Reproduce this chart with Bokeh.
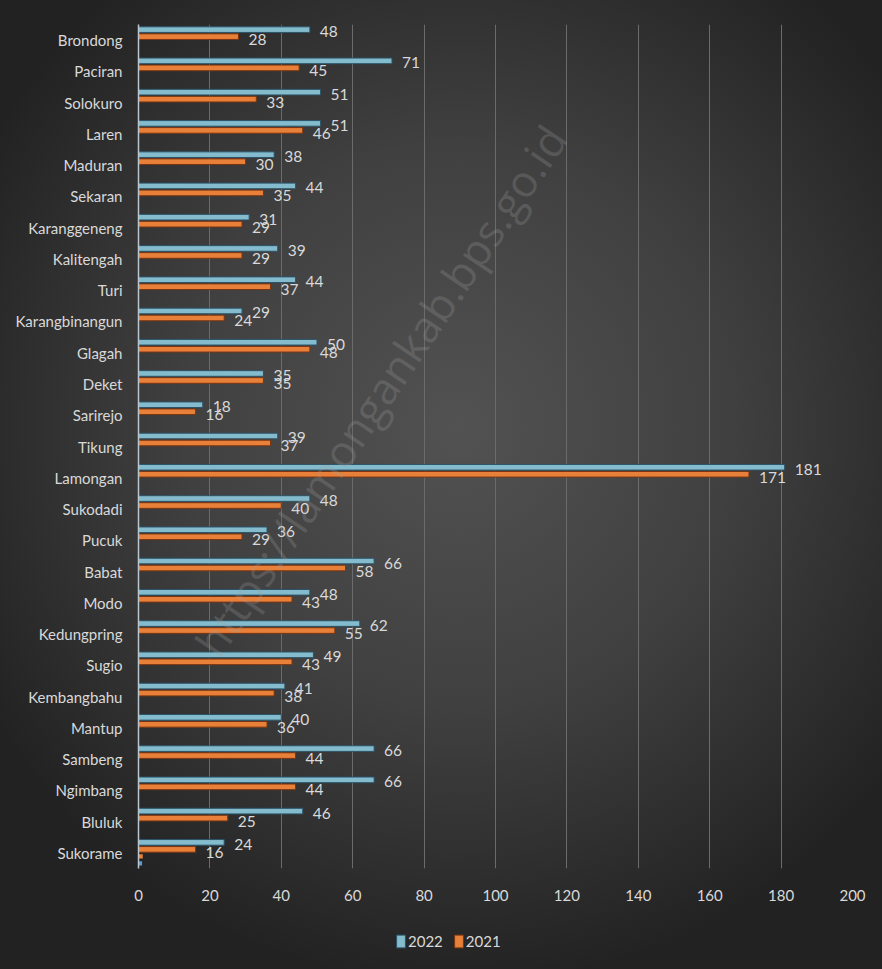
from bokeh.plotting import figure
from bokeh.layouts import column
from bokeh.models import (ColumnDataSource, FactorRange, Range1d, FixedTicker, Legend,
                          LegendItem, Label, InlineStyleSheet)
from bokeh.transform import dodge
from bokeh.core.properties import value
from bokeh.embed import file_html
from bokeh.resources import INLINE

categories = ["Brondong", "Paciran", "Solokuro", "Laren", "Maduran", "Sekaran", "Karanggeneng",
              "Kalitengah", "Turi", "Karangbinangun", "Glagah", "Deket", "Sarirejo", "Tikung",
              "Lamongan", "Sukodadi", "Pucuk", "Babat", "Modo", "Kedungpring", "Sugio",
              "Kembangbahu", "Mantup", "Sambeng", "Ngimbang", "Bluluk", "Sukorame"]
v2022 = [48, 71, 51, 51, 38, 44, 31, 39, 44, 29, 50, 35, 18, 39, 181, 48, 36, 66, 48, 62, 49,
         41, 40, 66, 66, 46, 24]
v2021 = [28, 45, 33, 46, 30, 35, 29, 29, 37, 24, 48, 35, 16, 37, 171, 40, 29, 58, 43, 55, 43,
         38, 36, 44, 44, 25, 16]
# two stray (nearly empty) series visible only under Sukorame
v_extra_a = [0] * 26 + [1.2]
v_extra_b = [0] * 26 + [1.0]
x_ticks = [0, 20, 40, 60, 80, 100, 120, 140, 160, 180, 200]
series_names = ["2022", "2021"]
watermark = "https://lamongankab.bps.go.id"

FONT = "Lato"
TXT = "#d9d9d9"
BLUE, BLUE_EDGE = "#84bccd", "#2c5368"
ORANGE, ORANGE_EDGE = "#e8803a", "#7a3510"

src = ColumnDataSource(dict(cat=categories, v22=v2022, v21=v2021,
                            l22=[str(v) for v in v2022], l21=[str(v) for v in v2021],
                            ea=v_extra_a, eb=v_extra_b))

p = figure(width=882, height=925, output_backend="svg", toolbar_location=None,
           y_range=FactorRange(factors=list(reversed(categories)), range_padding=0),
           x_range=Range1d(0, 200),
           min_border_left=138, min_border_right=30, min_border_top=24, min_border_bottom=57)
p.border_fill_color = None
p.background_fill_color = None
p.outline_line_color = None

p.hbar(y=dodge("cat", 0.336, range=p.y_range), left=0, right="v22", height=0.18,
       source=src, fill_color=BLUE, line_color=BLUE_EDGE, line_width=1)
p.hbar(y=dodge("cat", 0.112, range=p.y_range), left=0, right="v21", height=0.18,
       source=src, fill_color=ORANGE, line_color=ORANGE_EDGE, line_width=1)
p.hbar(y=dodge("cat", -0.112, range=p.y_range), left=0, right="ea", height=0.13,
       source=src, fill_color="#e8803a", line_color=None)
p.hbar(y=dodge("cat", -0.336, range=p.y_range), left=0, right="eb", height=0.13,
       source=src, fill_color="#5b9bd5", line_color=None)

p.text(x="v22", y=dodge("cat", 0.336, range=p.y_range), text="l22", source=src,
       x_offset=10, y_offset=2, text_align="left", text_baseline="middle",
       text_font=value(FONT), text_font_size="15.5px", text_color=TXT)
p.text(x="v21", y=dodge("cat", 0.112, range=p.y_range), text="l21", source=src,
       x_offset=10, y_offset=3, text_align="left", text_baseline="middle",
       text_font=value(FONT), text_font_size="15.5px", text_color=TXT)

p.xaxis.ticker = FixedTicker(ticks=x_ticks)
p.xaxis.axis_line_color = None
p.xaxis.major_tick_line_color = None
p.xaxis.minor_tick_line_color = None
p.xaxis.major_label_standoff = 15
p.xaxis.major_label_text_font = FONT
p.xaxis.major_label_text_font_size = "15px"
p.xaxis.major_label_text_color = TXT

p.yaxis.axis_line_color = "#b9c6ce"
p.yaxis.axis_line_width = 1.5
p.yaxis.major_tick_line_color = None
p.yaxis.minor_tick_line_color = None
p.yaxis.major_label_standoff = 10
p.yaxis.major_label_text_font = FONT
p.yaxis.major_label_text_font_size = "15px"
p.yaxis.major_label_text_color = TXT

p.xgrid.grid_line_color = "#6b6b6b"
p.xgrid.grid_line_width = 1
p.ygrid.grid_line_color = None

wm = Label(x=242, y=478, x_units="screen", y_units="screen", text=watermark,
           angle=0.98, text_align="center", text_baseline="middle",
           text_font="Open Sans", text_font_size="44px", text_color="#a0a0a0",
           text_alpha=0.25)
p.add_layout(wm)

# legend strip below the chart (its frame is aligned with the chart's frame by the column)
lf = figure(width=882, height=44, output_backend="svg", toolbar_location=None,
            x_range=Range1d(0, 1), y_range=Range1d(0, 1), x_axis_type=None, y_axis_type=None,
            min_border_left=138, min_border_right=30, min_border_top=0, min_border_bottom=0)
lf.border_fill_color = None
lf.background_fill_color = None
lf.outline_line_color = None
lf.grid.grid_line_color = None
# legend-key glyphs: kept outside the strip's visible range, only their swatches show
key_src = ColumnDataSource(dict(y=[-10], left=[0], right=[0]))
k22 = lf.hbar(y="y", left="left", right="right", height=0.1, source=key_src,
              fill_color=BLUE, line_color=BLUE_EDGE)
k21 = lf.hbar(y="y", left="left", right="right", height=0.1, source=key_src,
              fill_color=ORANGE, line_color=ORANGE_EDGE)
legend = Legend(items=[LegendItem(label=series_names[0], renderers=[k22]),
                       LegendItem(label=series_names[1], renderers=[k21])],
                location=(257, 19), orientation="horizontal",
                glyph_width=11, glyph_height=16, label_standoff=2, spacing=10,
                padding=0, margin=0, background_fill_alpha=0, border_line_alpha=0,
                label_text_font=FONT, label_text_font_size="15px", label_text_color=TXT)
lf.add_layout(legend, "center")

layout = column(p, lf, spacing=0,
                stylesheets=[InlineStyleSheet(css=":host { background: radial-gradient(ellipse 62% 58% at 52% 44%, #525252 0%, #404040 50%, #2b2b2b 85%, #222222 100%); }")])

open("out.html", "w").write(file_html(layout, INLINE))
